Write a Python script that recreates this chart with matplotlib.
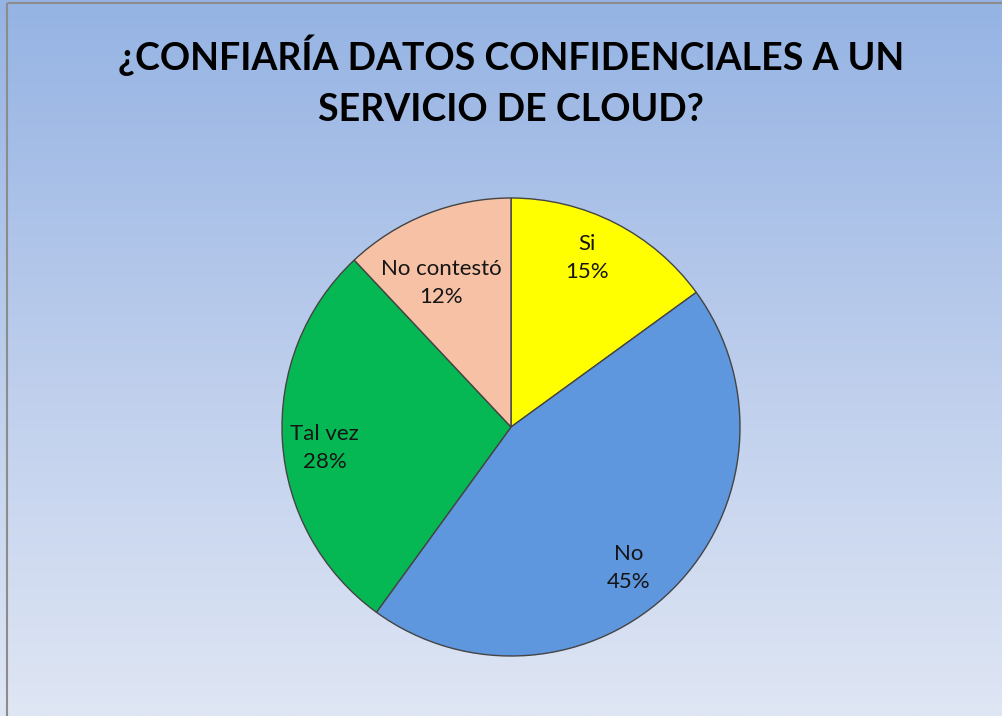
import matplotlib
matplotlib.use("Agg")
import matplotlib.pyplot as plt
import numpy as np
from matplotlib.colors import LinearSegmentedColormap
from matplotlib.patches import Rectangle

# Datos
categorias = ["Si", "No", "Tal vez", "No contestó"]
porcentajes = [15, 45, 28, 12]
colores = ["#FFFF00", "#5E97DE", "#06B853", "#F6C1A4"]
titulo = ["¿CONFIARÍA DATOS CONFIDENCIALES A UN", "SERVICIO DE CLOUD?"]

W, H = 1003, 716
fig = plt.figure(figsize=(W / 100, H / 100), dpi=100)

# fondo degradado
bg = fig.add_axes([0, 0, 1, 1])
grad = np.linspace(0, 1, 256).reshape(-1, 1)
cmap = LinearSegmentedColormap.from_list("fondo", ["#95B3E3", "#BCCDEC", "#DFE6F4"])
bg.imshow(grad, aspect="auto", cmap=cmap, extent=[0, W, H, 0])
bg.set_xlim(0, W)
bg.set_ylim(H, 0)
bg.axis("off")
bg.add_patch(Rectangle((7, 3), W, H, fill=False, edgecolor="#8C8C8C", linewidth=1.5))

for y, linea in zip([70, 121], titulo):
    bg.text(511, y, linea, ha="center", va="baseline",
            fontsize=27, fontweight="bold", family="Lato", color="black")

# pastel
cx, cy, r = 511, 427, 229
ax = fig.add_axes([(cx - r) / W, (H - cy - r) / H, 2 * r / W, 2 * r / H])
wedges, _ = ax.pie(porcentajes, colors=colores, startangle=90, counterclock=False,
                   radius=1, wedgeprops=dict(edgecolor="#444444", linewidth=1))
ax.set_xlim(-1, 1)
ax.set_ylim(-1, 1)
ax.set_aspect("equal")
ax.axis("off")

# posición de las etiquetas: distancia al centro y giro respecto al centro del sector
dist = [0.81, 0.80, 0.82, 0.70]
giro = [2.8, -5.1, 2.8, 4.3]
for w, cat, p, d, g in zip(wedges, categorias, porcentajes, dist, giro):
    ang = np.deg2rad((w.theta1 + w.theta2) / 2 + g)
    ax.text(d * np.cos(ang), d * np.sin(ang), f"{cat}\n{p}%", ha="center", va="center",
            fontsize=16, family="Lato", linespacing=1.5, color="#151515")

fig.savefig("out.png", dpi=100)
